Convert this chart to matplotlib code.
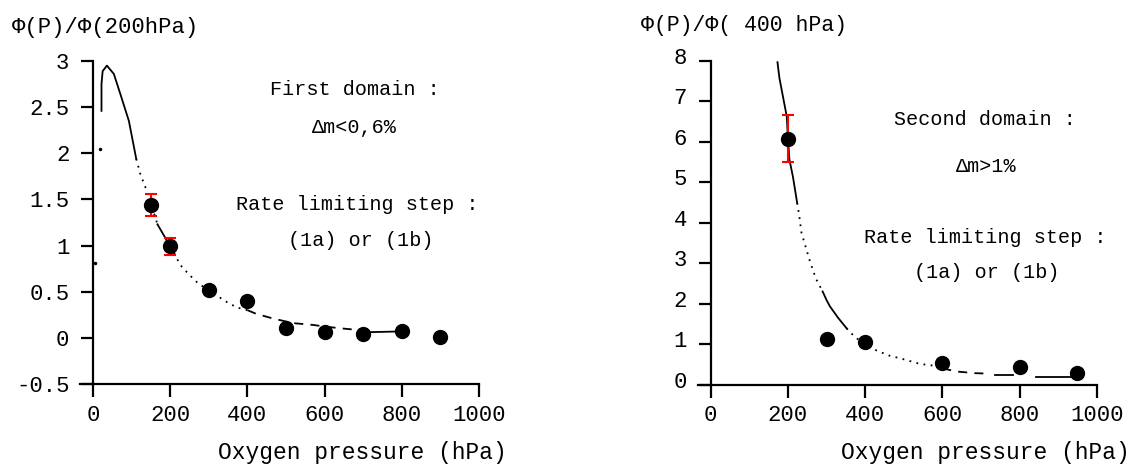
import numpy as np
from matplotlib import pyplot as plt
import matplotlib.transforms as mtransforms

plt.rcParams['font.family'] = ['Liberation Mono', 'DejaVu Sans']

# ---- left panel : first domain ----
p_left = [150, 200, 300, 400, 500, 600, 700, 800, 900]
phi_left = [1.44, 0.99, 0.52, 0.40, 0.11, 0.065, 0.045, 0.07, 0.01]
err_left = [0.12, 0.09, 0, 0, 0, 0, 0, 0, 0]

# fitted curve, split in pieces by line style
fit_left = [
  ([22, 22, 25, 36, 54, 71, 93, 112], [2.46, 2.75, 2.89, 2.95, 2.86, 2.64, 2.35, 1.94], '-'),
  ([112, 123, 136, 150, 167], [1.94, 1.77, 1.63, 1.46, 1.23], ':'),
  ([167, 185, 200, 210], [1.23, 1.10, 0.99, 0.92], '-'),
  ([210, 226, 248, 270, 297, 320, 346, 372, 400], [0.92, 0.79, 0.69, 0.60, 0.52, 0.46, 0.39, 0.33, 0.30], ':'),
  ([400, 423, 466, 518, 570, 605, 650, 700], [0.30, 0.26, 0.21, 0.16, 0.14, 0.12, 0.10, 0.08], '--'),
  ([700, 800], [0.06, 0.07], '-'),
]
stray_left_x = [5, 17]
stray_left_y = [0.81, 2.05]

# ---- right panel : second domain ----
p_right = [200, 300, 400, 600, 800, 950]
phi_right = [6.08, 1.12, 1.06, 0.52, 0.44, 0.29]
err_right = [0.58, 0, 0, 0, 0, 0]

fit_right = [
  ([173, 178, 188, 197, 200, 204, 213, 224], [7.97, 7.58, 7.08, 6.63, 6.10, 5.56, 5.14, 4.49], '-'),
  ([224, 229, 235, 256, 272, 290], [4.49, 4.20, 3.76, 3.08, 2.63, 2.30], ':'),
  ([290, 300, 309, 330, 352], [2.30, 2.09, 1.93, 1.65, 1.39], '-'),
  ([352, 374, 400, 430, 464, 490, 542, 590], [1.39, 1.17, 1.00, 0.84, 0.71, 0.65, 0.51, 0.45], ':'),
  ([600, 638, 685, 719], [0.40, 0.32, 0.28, 0.27], '--'),
  ([737, 784], [0.24, 0.24], '-'),
  ([844, 939], [0.18, 0.18], '-'),
]

yticks_left = [-0.5, 0, 0.5, 1, 1.5, 2, 2.5, 3]
yticks_right = [0, 1, 2, 3, 4, 5, 6, 7, 8]
xticks = [0, 200, 400, 600, 800, 1000]

styles = {'-': '-', ':': (0, (1, 3)), '--': (0, (5, 4))}


def setupAxis(ax, yticks, ylim):
  ax.set_xlim(0, 1000)
  ax.set_ylim(*ylim)
  for s in ['top', 'right']:
    ax.spines[s].set_visible(False)
  for s in ['left', 'bottom']:
    ax.spines[s].set_linewidth(1.6)
  ax.spines['bottom'].set_bounds(-34, 1000)
  ax.set_xticks(xticks)
  ax.set_yticks(yticks)
  ax.set_yticklabels(['%g' % t for t in yticks])
  ax.tick_params(direction='out', length=9, width=1.6, labelsize=16)
  ax.tick_params(axis='x', pad=6)
  ax.tick_params(axis='y', pad=8)
  ax.patch.set_visible(False)


def drawPanel(ax, p, phi, err, fit):
  for xs, ys, st in fit:
    ax.plot(xs, ys, linestyle=styles[st], color='k', lw=1.3, clip_on=False)
  for x, y, e in zip(p, phi, err):
    if e > 0:
      ax.errorbar(x, y, yerr=e, fmt='none', ecolor='red', elinewidth=1.5, capsize=4, capthick=1.5)
  ax.plot(p, phi, 'o', color='k', markersize=10, clip_on=False, zorder=5)


fig = plt.figure(figsize=(11.34, 4.68), dpi=100)
axL = fig.add_axes([93/1134, 1-384/468, 386/1134, 323/468])
axR = fig.add_axes([710.7/1134, 1-384.5/468, 386/1134, 323.5/468])

setupAxis(axL, yticks_left, (-0.5, 3))
setupAxis(axR, yticks_right, (0, 8))

drawPanel(axL, p_left, phi_left, err_left, fit_left)
axL.plot(stray_left_x, stray_left_y, 'o', color='k', markersize=1.5, clip_on=False)
drawPanel(axR, p_right, phi_right, err_right, fit_right)

# right y tick labels sit a bit above their ticks
off = mtransforms.ScaledTranslation(0, 0.05, fig.dpi_scale_trans)
for lab in axR.get_yticklabels():
  lab.set_transform(lab.get_transform() + off)

txt = dict(ha='center', va='center', fontsize=14.5)
axL.text(0.679, 0.913, 'First domain :', transform=axL.transAxes, **txt)
axL.text(0.676, 0.793, 'Δm<0,6%', transform=axL.transAxes, **txt)
axL.text(0.684, 0.557, 'Rate limiting step :', transform=axL.transAxes, **txt)
axL.text(0.694, 0.443, '(1a) or (1b)', transform=axL.transAxes, **txt)

axR.text(0.710, 0.818, 'Second domain :', transform=axR.transAxes, **txt)
axR.text(0.714, 0.675, 'Δm>1%', transform=axR.transAxes, **txt)
axR.text(0.710, 0.453, 'Rate limiting step :', transform=axR.transAxes, **txt)
axR.text(0.714, 0.345, '(1a) or (1b)', transform=axR.transAxes, **txt)

fig.text(12/1134, 1-28/468, 'Φ(P)/Φ(200hPa)', ha='left', va='center', fontsize=16)
fig.text(641/1134, 1-25/468, 'Φ(P)/Φ( 400 hPa)', ha='left', va='center', fontsize=15.5)
fig.text(507/1134, 1-452/468, 'Oxygen pressure (hPa)', ha='right', va='center', fontsize=16.5)
fig.text(1130/1134, 1-452/468, 'Oxygen pressure (hPa)', ha='right', va='center', fontsize=16.5)

fig.savefig('out.png', dpi=100)
